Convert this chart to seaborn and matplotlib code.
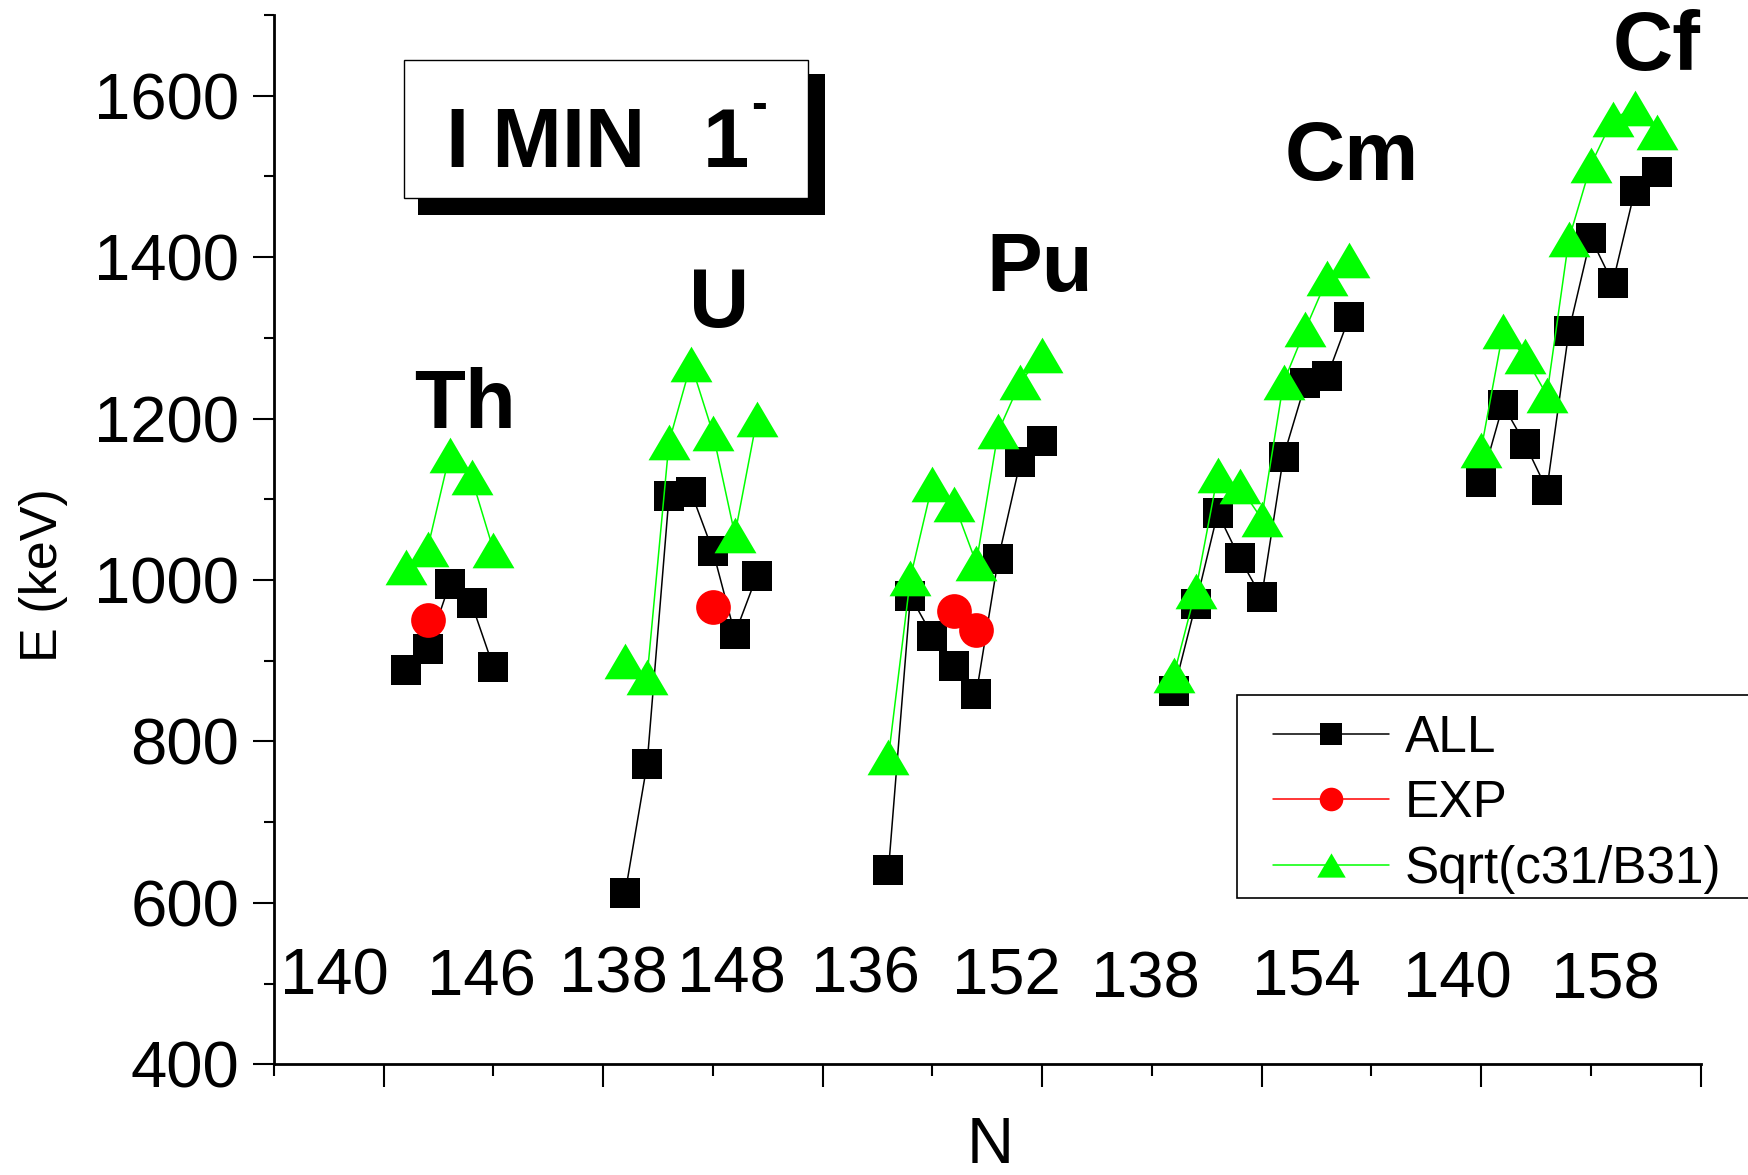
import numpy as np
import pandas as pd
import seaborn as sns
import matplotlib.pyplot as plt
from matplotlib.patches import Rectangle
from matplotlib.ticker import MultipleLocator

# positions of the nuclei on the common N axis, one block per element
th_x = [11, 12, 13, 14, 15]
u_x = [21, 22, 23, 24, 25, 26, 27]
pu_x = [33, 34, 35, 36, 37, 38, 39, 40]
cm_x = [46, 47, 48, 49, 50, 51, 52, 53, 54]
cf_x = [60, 61, 62, 63, 64, 65, 66, 67, 68]

# E (keV)
th_all = [888, 915, 995, 971, 892]
th_exp = [np.nan, 951, np.nan, np.nan, np.nan]
th_sqrt = [1016, 1039, 1155, 1127, 1037]

u_all = [612, 772, 1104, 1109, 1036, 933, 1005]
u_exp = [np.nan, np.nan, np.nan, np.nan, 966, np.nan, np.nan]
u_sqrt = [900, 880, 1171, 1268, 1182, 1056, 1199]

pu_all = [641, 980, 931, 894, 859, 1026, 1146, 1172]
pu_exp = [np.nan, np.nan, np.nan, 962, 938, np.nan, np.nan, np.nan]
pu_sqrt = [781, 1003, 1119, 1094, 1021, 1184, 1245, 1279]

cm_all = [863, 970, 1083, 1027, 979, 1153, 1244, 1253, 1326]
cm_sqrt = [882, 987, 1130, 1116, 1076, 1245, 1311, 1374, 1397]

cf_all = [1121, 1217, 1169, 1112, 1308, 1424, 1368, 1482, 1505]
cf_sqrt = [1161, 1308, 1277, 1229, 1422, 1514, 1571, 1585, 1555]

elements = ['Th', 'U', 'Pu', 'Cm', 'Cf']
element_x = [13.7, 25.3, 39.9, 54.1, 68.0]
element_y = [1188, 1313, 1358, 1495, 1632]

# neutron numbers written inside the plot
n_labels = ['140', '146', '138', '148', '136', '152', '138', '154', '140', '158']
n_label_x = [7.77, 14.43, 20.45, 25.83, 31.96, 38.36, 44.7, 52.02, 58.92, 65.67]
n_label_y = [486, 485, 489, 489, 489, 486, 483, 486, 483, 481]

series = ['ALL', 'EXP', 'Sqrt(c31/B31)']

# build one long table
rows = []
blocks = [
    ('Th', th_x, th_all, th_exp, th_sqrt),
    ('U', u_x, u_all, u_exp, u_sqrt),
    ('Pu', pu_x, pu_all, pu_exp, pu_sqrt),
    ('Cm', cm_x, cm_all, [np.nan] * len(cm_x), cm_sqrt),
    ('Cf', cf_x, cf_all, [np.nan] * len(cf_x), cf_sqrt),
]
for el, xs, a, e, s in blocks:
    for name, vals in zip(series, [a, e, s]):
        for xv, v in zip(xs, vals):
            rows.append({'element': el, 'series': name, 'x': xv, 'E': v})
df = pd.DataFrame(rows).dropna()

sns.set_style('ticks')
plt.rcParams['font.family'] = ['Liberation Sans', 'DejaVu Sans']
plt.rcParams['text.color'] = 'black'
plt.rcParams['axes.labelcolor'] = 'black'
plt.rcParams['xtick.color'] = 'black'
plt.rcParams['ytick.color'] = 'black'

W, H = 1748, 1175
fig = plt.figure(figsize=(W / 100, H / 100), dpi=100)
ax = fig.add_axes([274 / W, 1 - 1064.3 / H, (1700.5 - 274) / W, (1064.3 - 15) / H])

tri = np.array([(-1, -0.85), (1, -0.85), (0, 0.85)])
styles = {
    'ALL': dict(color='black', marker='s', markersize=22.3),
    'EXP': dict(color='#ff0000', marker='o', markersize=25),
    'Sqrt(c31/B31)': dict(color='#00ff00', marker=tri, markersize=30.2),
}

handles = []
for name in series:
    first = True
    for el in elements:
        sub = df[(df['series'] == name) & (df['element'] == el)]
        if len(sub) == 0:
            continue
        sns.lineplot(data=sub, x='x', y='E', ax=ax, estimator=None, sort=False,
                     legend=False, linewidth=1.1, markeredgewidth=0,
                     **styles[name])
        if first:
            handles.append(ax.lines[-1])
            first = False

ax.set_xlim(5, 70)
ax.set_ylim(400, 1700)
ax.xaxis.set_major_locator(MultipleLocator(10))
ax.xaxis.set_minor_locator(MultipleLocator(5))
ax.yaxis.set_major_locator(MultipleLocator(200))
ax.yaxis.set_minor_locator(MultipleLocator(100))
ax.set_xlabel('')
ax.set_ylabel('')
ax.tick_params(axis='x', which='major', direction='out', length=16.5, width=1.5,
               color='black', labelbottom=False)
ax.tick_params(axis='x', which='minor', direction='out', length=8.6, width=1.5, color='black')
ax.tick_params(axis='y', which='major', direction='out', length=15, width=1.5,
               color='black', labelcolor='black', labelsize=47, pad=10)
ax.tick_params(axis='y', which='minor', direction='out', length=7.5, width=1.5, color='black')
for side in ['top', 'right']:
    ax.spines[side].set_visible(False)
for side in ['left', 'bottom']:
    ax.spines[side].set_linewidth(2)
    ax.spines[side].set_color('black')

for name, xv, yv in zip(elements, element_x, element_y):
    ax.text(xv, yv, name, fontsize=60, fontweight='bold', ha='center', va='baseline')

for lab, xv, yv in zip(n_labels, n_label_x, n_label_y):
    ax.text(xv, yv, lab, fontsize=47, ha='center', va='baseline')

fig.text(44 / W, 1 - 575 / H, 'E (keV)', rotation=90, fontsize=37.5, ha='center', va='center')
fig.text(990 / W, 1 - 1146 / H, 'N', fontsize=47, ha='center', va='center')

# title box with drop shadow
fig.add_artist(Rectangle((418 / W, 1 - 215 / H), (825 - 418) / W, (215 - 74) / H,
                         transform=fig.transFigure, facecolor='black', edgecolor='none'))
fig.add_artist(Rectangle((404 / W, 1 - 198 / H), (808 - 404) / W, (198 - 60) / H,
                         transform=fig.transFigure, facecolor='white', edgecolor='black', linewidth=1))
fig.text(446 / W, 1 - 166.7 / H, 'I MIN', fontsize=60, fontweight='bold',
         ha='left', va='baseline')
one = fig.text(703 / W, 1 - 166.7 / H, '1', fontsize=60, fontweight='bold',
               ha='left', va='baseline')
fig.canvas.draw()
bb = one.get_window_extent()
fig.text((bb.x1 + 2) / W, 1 - 118 / H, '-', fontsize=34, fontweight='bold',
         ha='left', va='baseline')

# legend with its own frame
fig.add_artist(Rectangle((1237 / W, 1 - 898 / H), (1752 - 1237) / W, (898 - 695) / H,
                         transform=fig.transFigure, facecolor='white', edgecolor='black',
                         linewidth=1.2, zorder=2))
leg = fig.legend(handles, series, loc='upper left', bbox_to_anchor=(1273 / W, 1 - 714 / H),
                 bbox_transform=fig.transFigure, frameon=False, fontsize=37, borderpad=0,
                 borderaxespad=0, handlelength=2.26, handletextpad=0.3, labelspacing=0.32,
                 markerscale=0.68)
leg.set_zorder(3)

fig.savefig('out.png', dpi=100)
